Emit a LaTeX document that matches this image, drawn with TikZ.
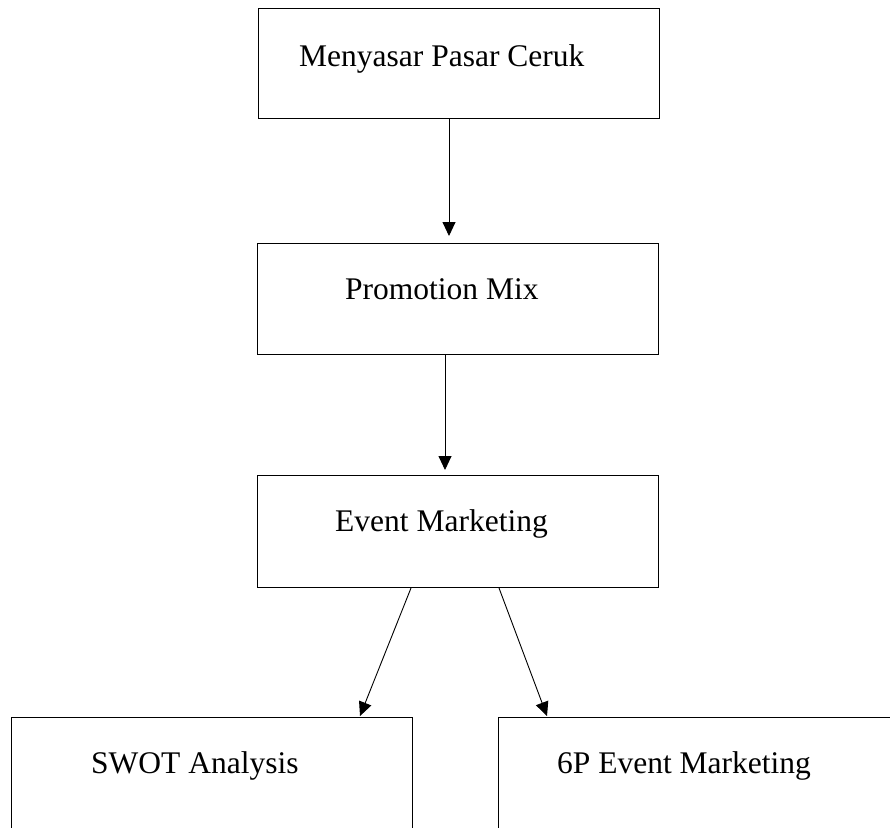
\documentclass[tikz,border=0pt]{standalone}
\usepackage{fontspec}
\setmainfont{Liberation Serif}
\usetikzlibrary{arrows.meta}
\begin{document}
\begin{tikzpicture}[x=1pt,y=-1pt,
  boxst/.style={draw,line width=1pt,rectangle,inner sep=0pt,anchor=north west},
  lbl/.style={anchor=base west,inner sep=0pt,font=\fontsize{31.5}{38}\selectfont},
  arr/.style={line width=0.9pt,-{Triangle[length=14pt,width=13pt]}}]
\useasboundingbox (0,0) rectangle (890,827);
\clip (0,0) rectangle (890,827);
\fill[white] (0,0) rectangle (890,827);
\node[boxst,minimum width=401pt,minimum height=110pt] (b1) at (258,8) {};
\node[boxst,minimum width=401pt,minimum height=111pt] (b2) at (257,243) {};
\node[boxst,minimum width=401pt,minimum height=112pt] (b3) at (257,475) {};
\node[boxst,minimum width=401pt,minimum height=140pt] (b4) at (11,717) {};
\node[boxst,minimum width=402pt,minimum height=140pt] (b5) at (498,717) {};
\node[lbl] (l1) at (299,66) {Menyasar Pasar Ceruk};
\node[lbl] (l2) at (345,299) {Promotion Mix};
\node[lbl] (l3) at (335,531) {Event Marketing};
\node[lbl] (l4) at (91,773) {SWOT Analysis};
\node[lbl] (l5) at (557,773) {6P Event Marketing};
\coordinate (t1) at (449,236);
\coordinate (t2) at (445,470);
\coordinate (s3) at (411,587);
\coordinate (t3) at (360,716);
\coordinate (s4) at (499,587);
\coordinate (t4) at (547,716);
\draw[arr] (b1.south -| t1) -- (t1);
\draw[arr] (b2.south -| t2) -- (t2);
\draw[arr] (b3.south -| s3) -- (t3);
\draw[arr] (b3.south -| s4) -- (t4);
\end{tikzpicture}
\end{document}
